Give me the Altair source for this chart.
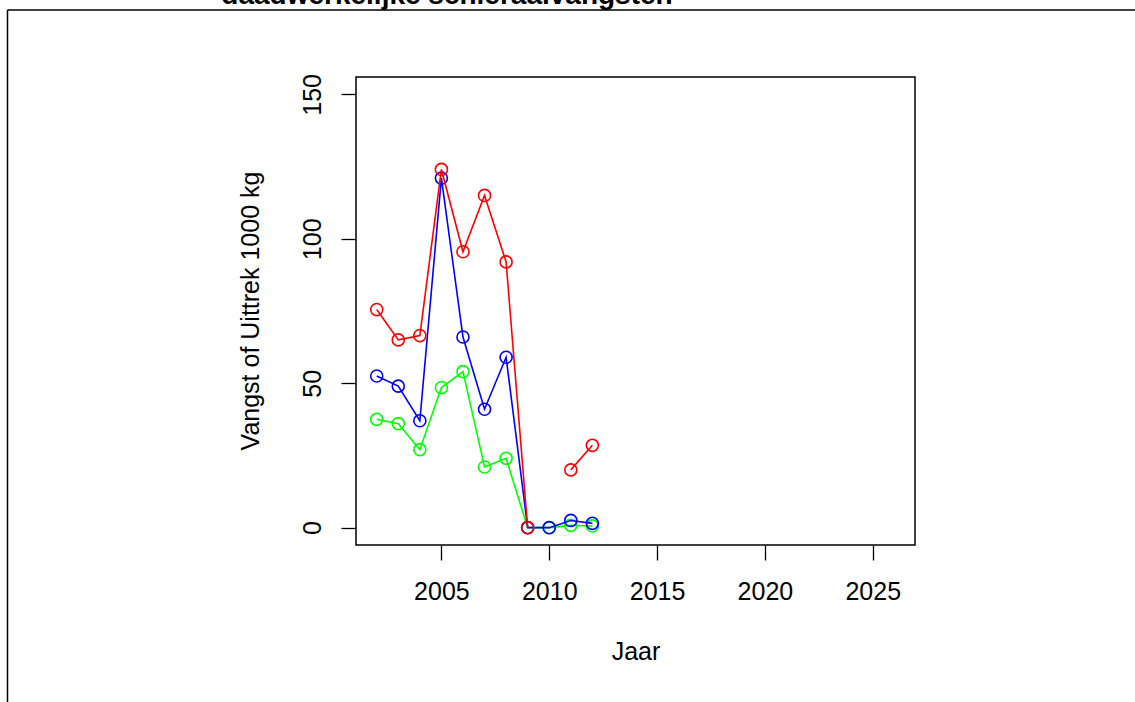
import altair as alt
import pandas as pd

years = [2002, 2003, 2004, 2005, 2006, 2007, 2008, 2009, 2010, 2011, 2012]
red = [75.5, 65, 66.5, 124, 95.5, 115, 92, 0, None, 20, 28.5]
blue = [52.5, 49, 37, 121, 66, 41, 59, 0, 0, 2.5, 1.5]
green = [37.5, 36, 27, 48.5, 54, 21, 24, 0, 0, 0.8, 0.6]
x_ticks = [2005, 2010, 2015, 2020, 2025]
y_ticks = [0, 50, 100, 150]
title_text = "daadwerkelijke schieraalvangsten"
x_title = "Jaar"
y_title = "Vangst of Uittrek 1000 kg"

FONT = "Liberation Sans"
W, H = 559, 468
L, T = 356, 77

xs = alt.Scale(domain=[2001.04, 2026.96], nice=False, zero=False)
ys = alt.Scale(domain=[-6, 156], nice=False, zero=False)

x_axis = alt.Axis(values=x_ticks, format="d", tickSize=15, tickWidth=1.3, tickColor="black",
                  domain=False, grid=False, labelFontSize=25, labelFont=FONT, labelColor="black",
                  labelPadding=19.5, labelFlush=False, labelOverlap=False,
                  title=x_title, titleFont=FONT, titleFontSize=25, titleFontWeight="normal",
                  titleColor="black", titleY=114.5, titleBaseline="alphabetic")
y_axis = alt.Axis(values=y_ticks, tickSize=15, tickWidth=1.3, tickColor="black",
                  domain=False, grid=False, labelFontSize=25, labelFont=FONT, labelColor="black",
                  labelAngle=270, labelAlign="center", labelBaseline="bottom",
                  labelPadding=16, labelFlush=False, labelOverlap=False,
                  title=y_title, titleFont=FONT, titleFontSize=25, titleFontWeight="normal",
                  titleColor="black", titleAngle=270, titleX=-98, titleY=233.5,
                  titleBaseline="alphabetic", titleAlign="center")

XE = alt.X("year:Q", scale=xs, axis=x_axis)
YE = alt.Y("value:Q", scale=ys, axis=y_axis)


def series_df(vals):
    rows = []
    seg = 0
    for yr, v in zip(years, vals):
        if v is None:
            seg += 1
            continue
        rows.append({"year": yr, "value": v, "seg": seg})
    return pd.DataFrame(rows)


layers = []
for vals, col in [(green, "#00FF00"), (blue, "#0000FF"), (red, "#FF0000")]:
    df = series_df(vals)
    line = alt.Chart(df).mark_line(color=col, strokeWidth=1.6).encode(
        x=XE, y=YE, detail="seg:N")
    pts = alt.Chart(df).mark_point(shape="circle", filled=False, color=col, size=145,
                                   strokeWidth=1.6, opacity=1).encode(x=XE, y=YE)
    layers += [line, pts]

one = pd.DataFrame({"k": [0]})
frame_left = alt.Chart(one).mark_rule(color="black", strokeWidth=1.5).encode(
    x=alt.value(7.5 - L), y=alt.value(10 - T), y2=alt.value(702 - T))
frame_top = alt.Chart(one).mark_rule(color="black", strokeWidth=1.5).encode(
    x=alt.value(7.5 - L), x2=alt.value(1135 - L), y=alt.value(10 - T))
title = alt.Chart(one).mark_text(text=title_text, font=FONT, fontSize=28, fontWeight="bold",
                                 color="black", align="center", baseline="alphabetic").encode(
    x=alt.value(447 - L), y=alt.value(4 - T))

chart = alt.layer(*layers, frame_left, frame_top, title).properties(
    width=W, height=H,
    autosize=alt.AutoSizeParams(type="none"),
    padding={"left": L, "top": T, "right": 1135 - L - W, "bottom": 702 - T - H},
    background="white",
).configure_view(stroke="black", strokeWidth=1.5)

chart.save("out.html", embed_options={"renderer": "svg", "actions": False})
